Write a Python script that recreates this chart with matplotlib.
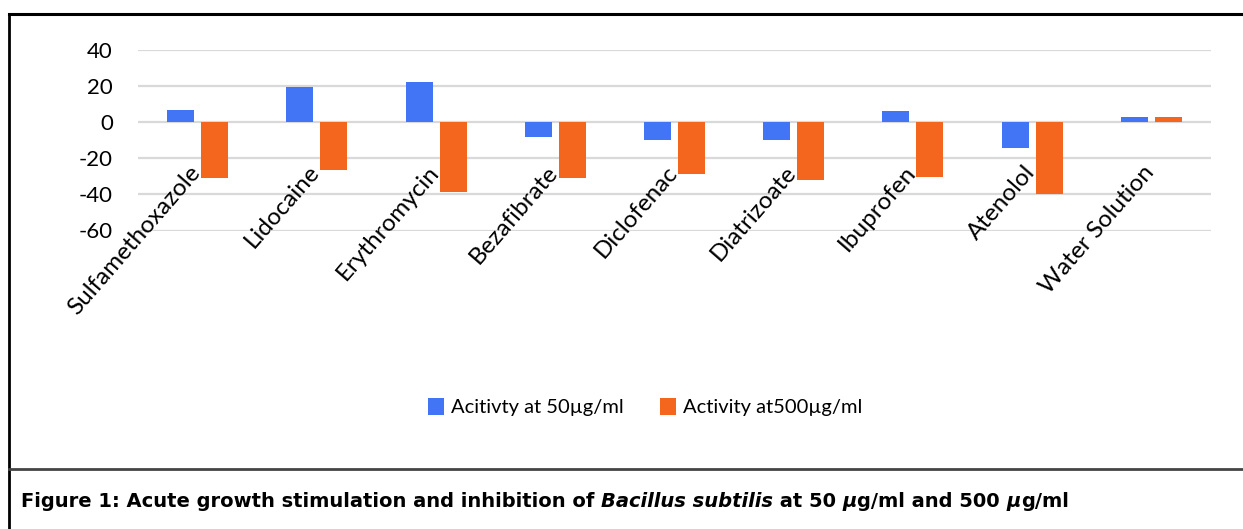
import matplotlib
matplotlib.use('Agg')
import matplotlib.pyplot as plt
import numpy as np

# Datos
drugs = ['Sulfamethoxazole', 'Lidocaine', 'Erythromycin', 'Bezafibrate', 'Diclofenac',
         'Diatrizoate', 'Ibuprofen', 'Atenolol', 'Water Solution']
act_50 = [6.8, 19.5, 22.5, -8.2, -9.7, -9.7, 6.1, -14.5, 2.9]
act_500 = [-31.0, -26.6, -38.5, -31.1, -28.5, -32.2, -30.4, -40.0, 2.9]
yticks = [40, 20, 0, -20, -40, -60]
series_names = ['Acitivty at 50µg/ml', 'Activity at500µg/ml']

BLUE = '#4275F5'
ORANGE = '#F4651E'
W, H = 1243, 529

plt.rcParams['font.family'] = ['Lato', 'DejaVu Sans']

fig = plt.figure(figsize=(W / 100, H / 100), dpi=100)
ax = fig.add_axes([138 / W, 1 - 230.5 / H, (1211 - 138) / W, 180.5 / H])

x = np.arange(len(drugs))
bw = 0.2265
off = 0.1426
b1 = ax.bar(x - off, act_50, bw, color=BLUE, zorder=3, label=series_names[0])
b2 = ax.bar(x + off, act_500, bw, color=ORANGE, zorder=3, label=series_names[1])

ax.set_xlim(-0.5, len(drugs) - 0.5)
ax.set_ylim(-60, 40)
ax.set_yticks(yticks)
ax.set_yticklabels([str(v) for v in yticks], fontsize=16)
ax.tick_params(axis='y', length=0, pad=18)
ax.set_xticks([])
ax.grid(axis='y', color='#d9d9d9', linewidth=1.6, zorder=0)
for s in ax.spines.values():
    s.set_visible(False)

# etiquetas de categoría inclinadas
for i, name in enumerate(drugs):
    ax.text(i + 0.03, -28, name, rotation=49, rotation_mode='anchor',
            ha='right', va='baseline', fontsize=17.5, clip_on=False)

fig.legend(handles=[b1, b2], loc='center', bbox_to_anchor=(645 / W, 1 - 407 / H),
           ncol=2, frameon=False, fontsize=14.5, handlelength=0.8, handleheight=0.9,
           handletextpad=0.35, columnspacing=1.8)

# marco y separador
lines = [
    ([9 / W, 1], [1 - 14 / H, 1 - 14 / H], 'black', 2.2),
    ([9 / W, 9 / W], [1 - 14 / H, 0], 'black', 2.0),
    ([9 / W, 1], [1 - 469 / H, 1 - 469 / H], '#444444', 2.0),
]
for xs, ys, c, lw in lines:
    fig.add_artist(plt.Line2D(xs, ys, color=c, linewidth=lw, transform=fig.transFigure))

# pie de figura con partes en cursiva
parts = [('Figure 1: Acute growth stimulation and inhibition of ', 'normal'),
         ('Bacillus subtilis', 'italic'),
         (' at 50 ', 'normal'),
         ('µ', 'italic'),
         ('g/ml and 500 ', 'normal'),
         ('µ', 'italic'),
         ('g/ml', 'normal')]
cap_size = 14
t = fig.text(21 / W, 1 - 511 / H, parts[0][0], fontsize=cap_size, fontweight='bold',
             family='DejaVu Sans', va='bottom', ha='left')
for txt, st in parts[1:]:
    t = ax.annotate(txt, xy=(1, 0), xycoords=t, va='bottom', ha='left',
                    fontsize=cap_size, fontweight='bold', style=st,
                    family='DejaVu Sans')

fig.savefig('out.png', dpi=100)
